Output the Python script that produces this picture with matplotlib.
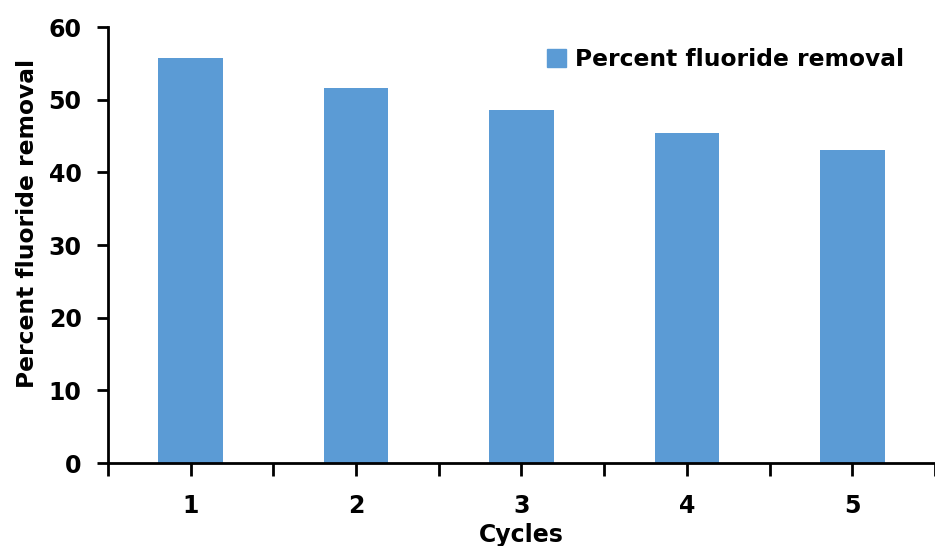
import numpy as np
import matplotlib.pyplot as plt
from matplotlib.patches import Patch

cycles = ["1", "2", "3", "4", "5"]
removal = [55.7, 51.6, 48.6, 45.4, 43.1]

plt.rcParams['font.family'] = ['DejaVu Sans']
plt.rcParams['font.weight'] = 'bold'

fig = plt.figure(figsize=(9.35, 5.46), dpi=100)
ax = fig.add_axes([0.1155, 0.152, 0.8845, 0.7985])

x = np.arange(1, len(cycles) + 1)
ax.bar(x, removal, width=0.39, color='#5B9BD5')

# ticks at category centres and boundaries, labels only at centres
ax.set_xlim(0.5, len(cycles) + 0.5)
ax.set_ylim(0, 60)
ax.set_yticks(np.arange(0, 61, 10))
ax.set_xticks(np.arange(0.5, len(cycles) + 0.51, 0.5))
ax.set_xticklabels(["" if i % 2 == 0 else cycles[i // 2]
                    for i in range(2 * len(cycles) + 1)])

for s in ['top', 'right']:
    ax.spines[s].set_visible(False)
for s in ['left', 'bottom']:
    ax.spines[s].set_linewidth(2)

ax.tick_params(axis='y', direction='out', length=8, width=2, labelsize=17, pad=11)
ax.tick_params(axis='x', direction='out', length=9, width=2, labelsize=17, pad=13)
for lbl in ax.get_xticklabels() + ax.get_yticklabels():
    lbl.set_fontweight('bold')

ax.set_ylabel("Percent fluoride removal", fontsize=16.8, fontweight='bold')
ax.yaxis.set_label_coords(-0.084, 0.55)
ax.set_xlabel("Cycles", fontsize=17, fontweight='bold', labelpad=4)

ax.legend(handles=[Patch(color='#5B9BD5', label="Percent fluoride removal")],
          loc='upper right', bbox_to_anchor=(0.988, 1.0), frameon=False,
          prop={'size': 16.8, 'weight': 'bold'}, handlelength=0.8, handleheight=0.8,
          handletextpad=0.4)

fig.savefig("out.png", dpi=100)
